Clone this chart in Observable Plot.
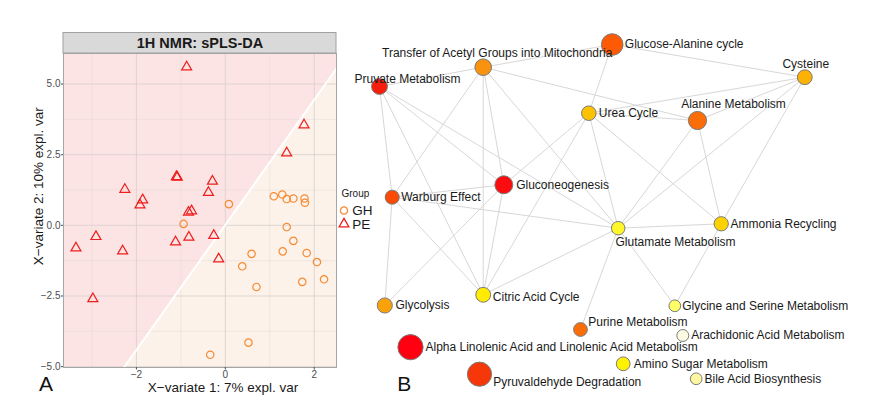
<!DOCTYPE html>
<html><head><meta charset="utf-8">
<script src="https://cdn.jsdelivr.net/npm/d3@7"></script>
<script src="https://cdn.jsdelivr.net/npm/@observablehq/plot@0.6"></script>
<style>
body{margin:0;background:#fff;}
#wrap{position:relative;width:894px;height:410px;}
#wrap > svg{position:absolute;left:0;top:0;}
</style></head><body><div id="wrap"></div>
<script>
// ---------- Panel A data: sPLS-DA scores ----------
const groups = ["GH", "PE"];
const groupColors = ["#f68b33", "#ee1c1c"];
const peX = [-0.87, 1.77, 1.38, -1.10, -1.08, -0.29, -2.26, -0.38, -1.86, -1.92, -0.83, -0.76, -2.91, -0.26, -0.82, -3.36, -1.12, -2.31, -0.15, -2.98];
const peY = [5.60, 3.55, 2.56, 1.72, 1.70, 1.56, 1.27, 1.16, 0.90, 0.72, 0.46, 0.51, -0.40, -0.36, -0.42, -0.80, -0.59, -0.91, -1.19, -2.60];
const ghX = [0.08, -0.94, 1.09, 1.28, 1.38, 1.53, 1.78, 1.79, 1.38, 1.53, 0.59, 1.29, 1.83, 2.06, 0.38, 0.70, 1.73, 2.22, 0.52, -0.34];
const ghY = [0.75, 0.05, 1.03, 1.09, 0.93, 0.95, 0.95, 0.80, -0.06, -0.55, -1.01, -0.92, -0.98, -1.30, -1.45, -2.18, -2.00, -1.91, -4.15, -4.58];
const boundaryX = [-2.28, 2.50];
const boundaryY = [-5.03, 5.55];
const xDomain = [-3.64, 2.50];
const yDomain = [-5.03, 6.08];
const xTicks = [-2, 0, 2];
const yTicks = [-5, -2.5, 0, 2.5, 5];
const xMinor = [-3, -1, 1];
const yMinor = [-3.75, -1.25, 1.25, 3.75];
const panelTitle = "1H NMR: sPLS-DA";
const xTitle = "X\u2212variate 1: 7% expl. var";
const yTitle = "X\u2212variate 2: 10% expl. var";

// ---------- Panel B data: pathway network ----------
const pathways = ["Transfer of Acetyl Groups into Mitochondria", "Pruvate Metabolism", "Glucose-Alanine cycle", "Cysteine", "Urea Cycle", "Alanine Metabolism", "Gluconeogenesis", "Warburg Effect", "Ammonia Recycling", "Glutamate Metabolism", "Glycolysis", "Citric Acid Cycle", "Glycine and Serine Metabolism", "Purine Metabolism", "Arachidonic Acid Metabolism", "Alpha Linolenic Acid and Linolenic Acid Metabolism", "Amino Sugar Metabolism", "Pyruvaldehyde Degradation", "Bile Acid Biosynthesis"];
const layoutX = [482.7, 379.0, 611.7, 804.3, 588.3, 697.0, 503.3, 391.7, 720.7, 617.7, 384.3, 482.7, 674.3, 580.0, 682.3, 410.0, 622.7, 479.0, 695.7];
const layoutY = [66.7, 86.0, 44.0, 76.7, 112.7, 120.0, 184.3, 196.7, 223.3, 227.7, 305.0, 294.3, 305.3, 329.0, 335.0, 346.7, 363.3, 373.7, 378.3];
const hits = [6.4, 6.1, 8.3, 5.7, 5.6, 7.0, 6.9, 5.4, 5.5, 5.2, 5.8, 5.7, 4.5, 5.3, 4.6, 9.7, 5.3, 9.3, 4.5];
const impact = [0.60, 0.93, 0.75, 0.50, 0.45, 0.70, 0.97, 0.80, 0.40, 0.25, 0.55, 0.32, 0.18, 0.70, 0.0, 1.0, 0.30, 0.86, 0.10];
const edgeFrom = ["Pruvate Metabolism", "Pruvate Metabolism", "Pruvate Metabolism", "Pruvate Metabolism", "Pruvate Metabolism",
  "Transfer of Acetyl Groups into Mitochondria", "Transfer of Acetyl Groups into Mitochondria", "Transfer of Acetyl Groups into Mitochondria", "Transfer of Acetyl Groups into Mitochondria", "Transfer of Acetyl Groups into Mitochondria", "Transfer of Acetyl Groups into Mitochondria",
  "Glucose-Alanine cycle", "Glucose-Alanine cycle",
  "Urea Cycle", "Urea Cycle", "Urea Cycle", "Urea Cycle", "Urea Cycle", "Urea Cycle",
  "Cysteine", "Cysteine", "Cysteine",
  "Alanine Metabolism", "Alanine Metabolism",
  "Glutamate Metabolism", "Glutamate Metabolism", "Glutamate Metabolism", "Glutamate Metabolism", "Glutamate Metabolism",
  "Ammonia Recycling",
  "Gluconeogenesis", "Gluconeogenesis", "Gluconeogenesis",
  "Warburg Effect", "Warburg Effect"];
const edgeTo = ["Transfer of Acetyl Groups into Mitochondria", "Warburg Effect", "Citric Acid Cycle", "Gluconeogenesis", "Glutamate Metabolism",
  "Glucose-Alanine cycle", "Warburg Effect", "Citric Acid Cycle", "Gluconeogenesis", "Glutamate Metabolism", "Alanine Metabolism",
  "Urea Cycle", "Cysteine",
  "Cysteine", "Alanine Metabolism", "Gluconeogenesis", "Citric Acid Cycle", "Glutamate Metabolism", "Ammonia Recycling",
  "Alanine Metabolism", "Glutamate Metabolism", "Ammonia Recycling",
  "Glutamate Metabolism", "Ammonia Recycling",
  "Ammonia Recycling", "Glycine and Serine Metabolism", "Purine Metabolism", "Citric Acid Cycle", "Warburg Effect",
  "Glycine and Serine Metabolism",
  "Warburg Effect", "Citric Acid Cycle", "Glycolysis",
  "Glycolysis", "Citric Acid Cycle"];

// ---------- build tables ----------
const points = [
  ...ghX.map((x, i) => ({x, y: ghY[i], group: "GH"})),
  ...peX.map((x, i) => ({x, y: peY[i], group: "PE"}))
];
const peRegion = [
  {x: xDomain[0], y1: yDomain[0], y2: yDomain[1]},
  {x: boundaryX[0], y1: boundaryY[0], y2: yDomain[1]},
  {x: boundaryX[1], y1: boundaryY[1], y2: yDomain[1]}
];
const boundary = boundaryX.map((x, i) => ({x, y: boundaryY[i]}));
const nodes = pathways.map((name, i) => ({name, x: layoutX[i], y: layoutY[i], hits: hits[i], impact: impact[i]}));
const byName = new Map(nodes.map(d => [d.name, d]));
const edges = edgeFrom.map((s, i) => ({source: byName.get(s), target: byName.get(edgeTo[i])}));

const font = "'Liberation Sans', Arial, sans-serif";
const colorOf = new Map(groups.map((g, i) => [g, groupColors[i]]));

// strip above the panel
function strip(index, scales, values, dims) {
  const x0 = dims.marginLeft, x1 = dims.width - dims.marginRight;
  return d3.create("svg:rect")
    .attr("x", x0).attr("y", dims.marginTop - 20.5)
    .attr("width", x1 - x0).attr("height", 20.5)
    .attr("fill", "#d9d9d9").attr("stroke", "#a0a0a0").attr("stroke-width", 1)
    .node();
}
// legend symbols
function legendSymbols(index, scales, values, dims) {
  const g = d3.create("svg:g");
  const x0 = dims.width - dims.marginRight;
  const ym = (dims.marginTop + dims.height - dims.marginBottom) / 2;
  groups.forEach((grp, i) => {
    g.append("path")
      .attr("d", d3.symbol(i ? d3.symbolTriangle : d3.symbolCircle, Math.PI * 3.6 * 3.6)())
      .attr("transform", `translate(${x0 + 8},${ym + 0.5 + i * 13.5})`)
      .attr("fill", "none").attr("stroke", colorOf.get(grp)).attr("stroke-width", 1.3);
  });
  return g.node();
}

const left = Plot.plot({
  width: 894, height: 410,
  marginLeft: 63, marginRight: 894 - 336, marginTop: 53, marginBottom: 410 - 367,
  style: {background: "transparent", fontFamily: font},
  x: {domain: xDomain},
  y: {domain: yDomain},
  symbol: {domain: groups, range: ["circle", "triangle"]},
  color: {domain: groups, range: groupColors},
  marks: [
    Plot.frame({fill: "#fcf2ea", stroke: null}),
    Plot.areaY(peRegion, {x: "x", y1: "y1", y2: "y2", fill: "#fde4e4", curve: "linear"}),
    Plot.ruleX(xMinor, {stroke: "#d8d0cc", strokeOpacity: 0.55, strokeWidth: 0.6}),
    Plot.ruleY(yMinor, {stroke: "#d8d0cc", strokeOpacity: 0.55, strokeWidth: 0.6}),
    Plot.ruleX(xTicks, {stroke: "#d8d0cc", strokeOpacity: 0.85, strokeWidth: 1}),
    Plot.ruleY(yTicks, {stroke: "#d8d0cc", strokeOpacity: 0.85, strokeWidth: 1}),
    Plot.line(boundary, {x: "x", y: "y", stroke: "white", strokeWidth: 2}),
    Plot.frame({stroke: "#a6a6a6", strokeWidth: 1}),
    strip,
    Plot.text([panelTitle], {frameAnchor: "top", textAnchor: "middle", lineAnchor: "middle", dy: -10, fontWeight: "bold", fontSize: 14.5, fill: "#1a1a1a"}),
    Plot.dot(points, {x: "x", y: "y", symbol: "group", stroke: "group", r: 3.7, strokeWidth: 1.2}),
    Plot.axisX({ticks: xTicks, tickFormat: d3.format("d"), tickSize: 2.5, tickPadding: 1, fontSize: 10, color: "#4d4d4d", stroke: "#4d4d4d", label: null}),
    Plot.axisY({ticks: yTicks, tickFormat: d3.format(".1f"), tickSize: 2, tickPadding: 1, fontSize: 10, color: "#4d4d4d", stroke: "#4d4d4d", label: null}),
    Plot.text([xTitle], {frameAnchor: "bottom", textAnchor: "middle", lineAnchor: "middle", dx: 23, dy: 20, fontSize: 13.5, fill: "#1a1a1a"}),
    Plot.text([yTitle], {frameAnchor: "left", textAnchor: "middle", lineAnchor: "middle", dx: -24.7, dy: -24.3, rotate: -90, fontSize: 13.5, fill: "#1a1a1a"}),
    Plot.text(["Group"], {frameAnchor: "right", textAnchor: "start", lineAnchor: "middle", dx: 5, dy: -16.7, fontSize: 10, fill: "#1a1a1a"}),
    legendSymbols,
    Plot.text(groups, {frameAnchor: "right", textAnchor: "start", lineAnchor: "middle", dx: 15.7, dy: 0.5, fontSize: 13.5, fill: "#1a1a1a", filter: d => d === "GH"}),
    Plot.text(groups, {frameAnchor: "right", textAnchor: "start", lineAnchor: "middle", dx: 15.7, dy: 14, fontSize: 13.5, fill: "#1a1a1a", filter: d => d === "PE"}),
    Plot.text(["A"], {frameAnchor: "bottom-left", textAnchor: "middle", lineAnchor: "middle", dx: -17.5, dy: 16.3, fontSize: 21, fill: "#111"})
  ]
});

// label placement (layout only)
const labelPlacement = {
  "Transfer of Acetyl Groups into Mitochondria": {dx: 14, dy: -14, anchor: "middle"},
  "Pruvate Metabolism": {dx: -25, dy: -7, anchor: "start"},
  "Glucose-Alanine cycle": {dx: 12.6, dy: -0.7, anchor: "start"},
  "Cysteine": {dx: 1, dy: -13.4, anchor: "middle"},
  "Alanine Metabolism": {dx: 36, dy: -16, anchor: "middle"},
  "Urea Cycle": {dx: 10, dy: 0, anchor: "start"},
  "Gluconeogenesis": {dx: 12.4, dy: 0.3, anchor: "start"},
  "Warburg Effect": {dx: 9, dy: 0, anchor: "start"},
  "Ammonia Recycling": {dx: 9.3, dy: 0.7, anchor: "start"},
  "Glutamate Metabolism": {dx: -2.7, dy: 14, anchor: "start"},
  "Glycolysis": {dx: 10.7, dy: 0, anchor: "start"},
  "Citric Acid Cycle": {dx: 9.6, dy: 2.4, anchor: "start"},
  "Glycine and Serine Metabolism": {dx: 7.4, dy: 0.7, anchor: "start"},
  "Purine Metabolism": {dx: 7.7, dy: -7.3, anchor: "start"},
  "Arachidonic Acid Metabolism": {dx: 8.4, dy: 0, anchor: "start"},
  "Alpha Linolenic Acid and Linolenic Acid Metabolism": {dx: 15, dy: 0, anchor: "start"},
  "Amino Sugar Metabolism": {dx: 10.6, dy: 0, anchor: "start"},
  "Pyruvaldehyde Degradation": {dx: 13.7, dy: 8, anchor: "start"},
  "Bile Acid Biosynthesis": {dx: 8.3, dy: 0.4, anchor: "start"}
};

const right = Plot.plot({
  width: 894, height: 410,
  margin: 0,
  style: {background: "transparent", fontFamily: font},
  x: {domain: [0, 894], range: [0, 894], axis: null},
  y: {domain: [0, 410], range: [0, 410], axis: null},
  r: {type: "linear", domain: [0, 10], range: [0, 13]},
  color: {type: "linear", domain: [0, 0.1, 0.18, 0.3, 0.45, 0.6, 0.75, 0.9, 1], range: ["#fcfbe2", "#fff7a0", "#ffff66", "#fff200", "#fcc200", "#f8920f", "#fd5a05", "#f22a0c", "#ff0010"], interpolate: "rgb"},
  marks: [
    Plot.link(edges, {x1: d => d.source.x, y1: d => d.source.y, x2: d => d.target.x, y2: d => d.target.y, stroke: "#d2d2d2", strokeWidth: 0.9}),
    Plot.dot(nodes, {x: "x", y: "y", r: "hits", fill: "impact", stroke: "#7a7a7a", strokeWidth: 1}),
    ...nodes.map(n => {
      const p = labelPlacement[n.name];
      return Plot.text([n], {x: "x", y: "y", text: "name", dx: p.dx, dy: p.dy, textAnchor: p.anchor, lineAnchor: "middle", fontSize: 12, fill: "#1a1a1a"});
    }),
    Plot.text(["B"], {frameAnchor: "bottom-left", textAnchor: "middle", lineAnchor: "middle", dx: 403.7, dy: -26.7, fontSize: 21, fill: "#111"})
  ]
});

const wrap = document.getElementById("wrap");
wrap.appendChild(left);
wrap.appendChild(right);
</script>
</body></html>
